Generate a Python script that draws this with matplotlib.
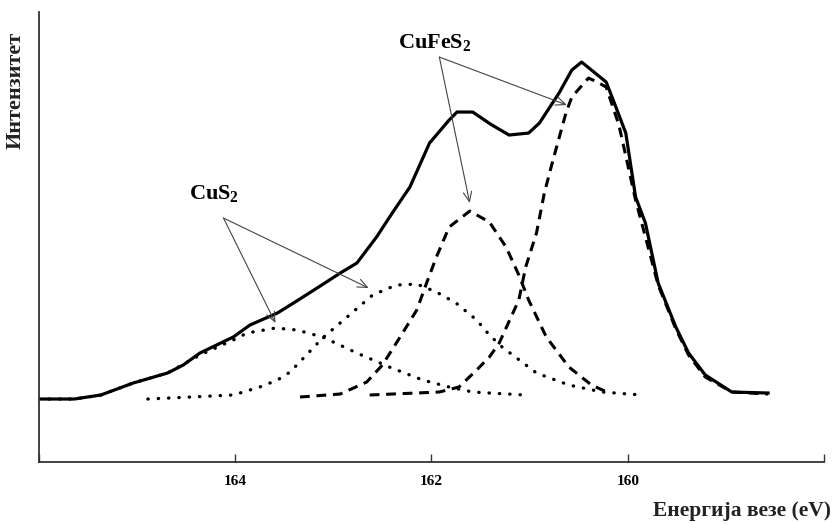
import matplotlib
matplotlib.use("Agg")
import numpy as np
from matplotlib import pyplot as plt

plt.rcParams["font.family"] = ["Liberation Serif", "DejaVu Serif"]
plt.rcParams["mathtext.fontset"] = "custom"
plt.rcParams["mathtext.rm"] = "Liberation Serif"
plt.rcParams["mathtext.bf"] = "Liberation Serif:bold"

# binding energy (eV) and intensity (arb. units)
env_e = [166.0, 165.64, 165.37, 165.04, 164.69, 164.53, 164.36, 164.02, 163.85,
         163.57, 163.39, 163.15, 162.93, 162.76, 162.56, 162.40, 162.22, 162.02,
         161.82, 161.74, 161.58, 161.40, 161.21, 161.01, 160.90, 160.70, 160.57,
         160.47, 160.22, 160.16, 160.02, 159.92, 159.82, 159.69, 159.51, 159.38,
         159.21, 158.94, 158.57]
env_i = [63, 63, 67, 79, 89, 97, 109, 125, 137, 149, 160, 175, 189, 199, 225, 249,
         275, 319, 342, 350, 350, 338, 327, 329, 339, 369, 392, 400, 380, 365, 329,
         265, 239, 179, 135, 109, 87, 70, 69]

cus2_a_e = [166.0, 165.64, 165.37, 165.04, 164.69, 164.36, 164.02, 163.88, 163.59,
            163.37, 163.11, 162.76, 162.43, 162.09, 161.82, 161.58, 161.41, 161.04]
cus2_a_i = [63, 63, 67, 79, 89, 107, 122, 129, 134, 132, 125, 109, 95, 82, 75,
            70, 69, 67]

cus2_b_e = [164.89, 164.02, 163.75, 163.57, 163.44, 163.11, 162.86, 162.60, 162.36,
            162.15, 161.95, 161.75, 161.54, 161.41, 161.28, 160.93, 160.60, 160.26,
            159.86]
cus2_b_i = [63, 67, 75, 82, 90, 124, 145, 167, 177, 178, 170, 159, 142, 127, 115,
            89, 77, 70, 67]

cufes2_a_e = [163.34, 162.93, 162.66, 162.50, 162.32, 162.15, 162.05, 161.95, 161.82,
              161.61, 161.41, 161.24, 161.11, 161.01, 160.83, 160.60, 160.37, 160.19]
cufes2_a_i = [65, 68, 80, 97, 125, 152, 179, 205, 235, 251, 240, 215, 187, 162, 125,
              95, 77, 69]

cufes2_b_e = [162.63, 161.92, 161.72, 161.54, 161.41, 161.31, 161.11, 161.04, 160.93,
              160.85, 160.77, 160.63, 160.57, 160.40, 160.31, 160.22, 160.09, 159.92,
              159.69, 159.51, 159.38, 159.21, 158.94, 158.57]
cufes2_b_i = [67, 70, 75, 92, 105, 119, 162, 195, 229, 269, 299, 349, 365, 384, 380,
              375, 337, 262, 177, 133, 107, 85, 70, 68]

xticks = [166, 164, 162, 160, 158]
xticklabels = ["", "164", "162", "160", ""]

fig = plt.figure(figsize=(8.33, 5.24), dpi=100)
ax = fig.add_axes([0.0468, 0.1183, 0.9424, 0.8587])

dot = (0, (0.1, 3.0))
ax.plot(cus2_a_e, cus2_a_i, color="black", lw=2.4, linestyle=dot, dash_capstyle="round")
ax.plot(cus2_b_e, cus2_b_i, color="black", lw=2.4, linestyle=dot, dash_capstyle="round")
ax.plot(cufes2_a_e, cufes2_a_i, color="black", lw=2.2, linestyle=(0, (3.2, 2.2)))
ax.plot(cufes2_b_e, cufes2_b_i, color="black", lw=2.2, linestyle=(0, (3.2, 2.2)))
ax.plot(env_e, env_i, color="black", lw=2.3, solid_joinstyle="round")

arrow = dict(arrowstyle="->,head_length=0.7,head_width=0.3", color="#444444", lw=0.8,
             shrinkA=0, shrinkB=0)
ax.annotate("", xy=(163.59, 139), xytext=(164.12, 244), arrowprops=arrow)
ax.annotate("", xy=(162.64, 174), xytext=(164.12, 244), arrowprops=arrow)
ax.annotate("", xy=(161.61, 259), xytext=(161.92, 405), arrowprops=arrow)
ax.annotate("", xy=(160.62, 357), xytext=(161.92, 405), arrowprops=arrow)
ax.text(164.22, 269, r"$\mathbf{CuS_2}$", fontsize=16, ha="center", va="center")
ax.text(161.97, 420, r"$\mathbf{CuFeS_2}$", fontsize=16, ha="center", va="center")

ax.set_xlim(166, 158)
ax.set_ylim(0, 450)
ax.set_xticks(xticks)
ax.set_xticklabels(xticklabels, fontsize=11, fontweight="bold")
ax.set_yticks([])
ax.tick_params(axis="x", direction="in", length=6, width=1, pad=9, color="#333333")
for side in ["top", "right"]:
    ax.spines[side].set_visible(False)
for side in ["left", "bottom"]:
    ax.spines[side].set_linewidth(1.3)
    ax.spines[side].set_color("#333333")

fig.text(0.019, 1 - 90 / 524, "Интензитет", rotation=90, ha="center", va="center",
         fontsize=16, fontweight="bold", color="#222222")
fig.text(0.997, 1 - 511 / 524, "Енергија везе (eV)", ha="right", va="center",
         fontsize=15.5, fontweight="bold", color="#222222")

fig.savefig("out.png", dpi=100)
